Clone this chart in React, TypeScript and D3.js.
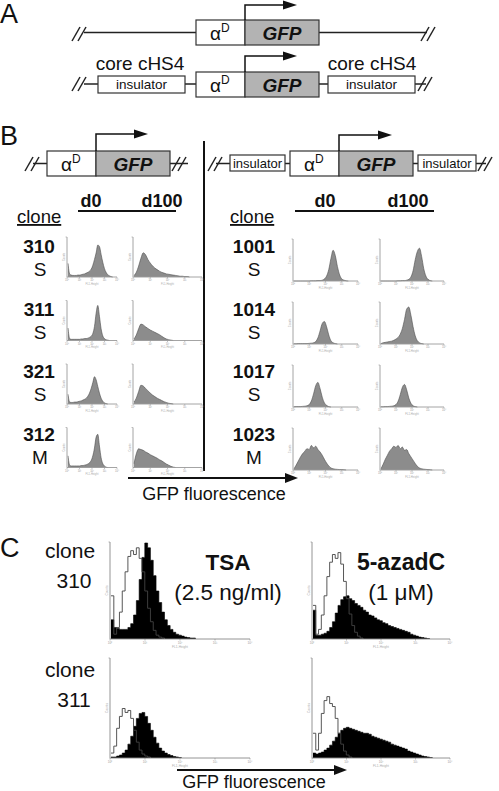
import React from "react";
import * as d3 from "d3";

const W = 499;
const H = 791;
const FONT = "'Liberation Sans', Arial, Helvetica, sans-serif";

// ---------- labels ----------
const decadeLabels = ["10⁰", "10¹", "10²", "10³", "10⁴"];
const leftClones = ["310", "311", "321", "312"];
const leftTypes = ["S", "S", "S", "M"];
const rightClones = ["1001", "1014", "1017", "1023"];
const rightTypes = ["S", "S", "S", "M"];
const dayLabels = ["d0", "d100"];
const treatNames = ["TSA", "5-azadC"];
const treatDoses = ["(2.5 ng/ml)", "(1 μM)"];
const cClones = ["310", "311"];

// ---------- panel B, no insulator (30 log bins) ----------
const b310d0 = [0.35, 0.08, 0.05, 0.04, 0.04, 0.04, 0.05, 0.05, 0.06, 0.07, 0.08, 0.1, 0.12, 0.15, 0.2, 0.3, 0.45, 0.62, 0.82, 0.78, 0.58, 0.38, 0.22, 0.12, 0.06, 0.03, 0.01, 0];
const b310d100 = [0.04, 0.12, 0.28, 0.48, 0.62, 0.57, 0.45, 0.36, 0.29, 0.23, 0.19, 0.15, 0.12, 0.1, 0.08, 0.07, 0.06, 0.05, 0.04, 0.03, 0.02, 0.02, 0.01, 0.01, 0];
const b311d0 = [0.32, 0.05, 0.03, 0.03, 0.03, 0.03, 0.03, 0.03, 0.04, 0.04, 0.05, 0.05, 0.06, 0.08, 0.11, 0.18, 0.36, 0.7, 0.9, 0.62, 0.3, 0.12, 0.05, 0.02, 0.01, 0];
const b311d100 = [0.04, 0.14, 0.3, 0.42, 0.4, 0.35, 0.31, 0.27, 0.24, 0.21, 0.18, 0.15, 0.11, 0.07, 0.04, 0.02, 0.01, 0];
const b321d0 = [0.25, 0.05, 0.04, 0.04, 0.05, 0.05, 0.06, 0.07, 0.08, 0.1, 0.12, 0.15, 0.2, 0.28, 0.4, 0.55, 0.7, 0.62, 0.45, 0.28, 0.15, 0.07, 0.03, 0.01, 0];
const b321d100 = [0.05, 0.15, 0.32, 0.48, 0.46, 0.4, 0.34, 0.28, 0.23, 0.19, 0.15, 0.12, 0.09, 0.06, 0.04, 0.02, 0.01, 0];
const b312d0 = [0.3, 0.06, 0.04, 0.04, 0.04, 0.04, 0.04, 0.04, 0.05, 0.05, 0.06, 0.07, 0.09, 0.12, 0.18, 0.3, 0.5, 0.78, 0.85, 0.55, 0.25, 0.1, 0.04, 0.01, 0];
const b312d100 = [0.1, 0.35, 0.48, 0.46, 0.44, 0.4, 0.37, 0.33, 0.3, 0.27, 0.24, 0.2, 0.17, 0.13, 0.09, 0.06, 0.03, 0.01, 0];

// ---------- panel B, with insulators ----------
const r1001d0 = [0, 0, 0, 0, 0, 0, 0, 0, 0.005, 0.005, 0.005, 0.01, 0.01, 0.02, 0.05, 0.12, 0.28, 0.55, 0.75, 0.62, 0.35, 0.15, 0.05, 0.02, 0.005, 0];
const r1001d100 = [0, 0, 0, 0, 0, 0, 0, 0, 0.005, 0.005, 0.01, 0.01, 0.02, 0.04, 0.1, 0.25, 0.52, 0.72, 0.8, 0.6, 0.3, 0.12, 0.04, 0.01, 0];
const r1014d0 = [0.005, 0.005, 0.01, 0.01, 0.01, 0.01, 0.01, 0.015, 0.02, 0.03, 0.06, 0.15, 0.32, 0.5, 0.55, 0.42, 0.22, 0.08, 0.03, 0.01, 0];
const r1014d100 = [0.01, 0.03, 0.04, 0.05, 0.06, 0.07, 0.09, 0.12, 0.16, 0.24, 0.38, 0.6, 0.85, 0.9, 0.7, 0.42, 0.2, 0.08, 0.03, 0.01, 0];
const r1017d0 = [0.005, 0.01, 0.01, 0.01, 0.015, 0.02, 0.03, 0.06, 0.15, 0.32, 0.52, 0.6, 0.45, 0.24, 0.1, 0.04, 0.01, 0];
const r1017d100 = [0.005, 0.005, 0.01, 0.01, 0.015, 0.02, 0.03, 0.06, 0.14, 0.3, 0.48, 0.55, 0.42, 0.22, 0.09, 0.03, 0.01, 0];
const r1023d0 = [0.03, 0.12, 0.22, 0.32, 0.4, 0.46, 0.52, 0.5, 0.6, 0.54, 0.58, 0.5, 0.44, 0.36, 0.26, 0.17, 0.1, 0.05, 0.03, 0.02, 0.015, 0.01, 0.01, 0.005, 0];
const r1023d100 = [0.03, 0.14, 0.26, 0.36, 0.46, 0.52, 0.58, 0.55, 0.6, 0.52, 0.56, 0.48, 0.5, 0.4, 0.32, 0.24, 0.16, 0.09, 0.05, 0.03, 0.02, 0.015, 0.01, 0.005, 0];

// ---------- panel C (50 log bins): untreated outline + treated filled ----------
const c310TsaCtrl = [0.45, 0.05, 0.12, 0.28, 0.5, 0.7, 0.86, 0.92, 0.88, 0.95, 0.84, 0.7, 0.5, 0.32, 0.18, 0.09, 0.04, 0.02, 0.01, 0];
const c310TsaTreat = [0.2, 0.12, 0.11, 0.1, 0.1, 0.1, 0.12, 0.16, 0.25, 0.4, 0.62, 0.85, 1.0, 0.95, 0.82, 0.66, 0.5, 0.38, 0.28, 0.2, 0.14, 0.1, 0.07, 0.05, 0.04, 0.03, 0.02, 0.015, 0.01, 0.01, 0];
const c310AzaCtrl = [0.35, 0.05, 0.1, 0.25, 0.45, 0.65, 0.8, 0.88, 0.84, 0.9, 0.78, 0.6, 0.42, 0.26, 0.14, 0.07, 0.03, 0.01, 0];
const c310AzaTreat = [0.3, 0.04, 0.04, 0.05, 0.06, 0.08, 0.12, 0.18, 0.27, 0.35, 0.41, 0.44, 0.45, 0.42, 0.4, 0.37, 0.35, 0.33, 0.3, 0.28, 0.25, 0.24, 0.22, 0.2, 0.19, 0.17, 0.16, 0.14, 0.13, 0.12, 0.11, 0.1, 0.09, 0.08, 0.07, 0.05, 0.04, 0.03, 0.02, 0.015, 0.01, 0.005, 0];
const c311TsaCtrl = [0.05, 0.12, 0.3, 0.42, 0.5, 0.46, 0.48, 0.4, 0.28, 0.16, 0.08, 0.04, 0.02, 0.01, 0];
const c311TsaTreat = [0.01, 0.01, 0.02, 0.03, 0.05, 0.08, 0.14, 0.22, 0.32, 0.4, 0.45, 0.46, 0.42, 0.35, 0.28, 0.21, 0.15, 0.1, 0.07, 0.05, 0.035, 0.025, 0.015, 0.01, 0.005, 0];
const c311AzaCtrl = [0.25, 0.08, 0.25, 0.45, 0.58, 0.62, 0.55, 0.52, 0.4, 0.25, 0.14, 0.07, 0.03, 0.01, 0];
const c311AzaTreat = [0.05, 0.04, 0.05, 0.06, 0.08, 0.1, 0.13, 0.17, 0.21, 0.25, 0.28, 0.3, 0.31, 0.3, 0.29, 0.28, 0.27, 0.26, 0.25, 0.25, 0.24, 0.22, 0.21, 0.2, 0.19, 0.18, 0.17, 0.16, 0.14, 0.13, 0.12, 0.11, 0.1, 0.09, 0.07, 0.06, 0.05, 0.04, 0.03, 0.02, 0.015, 0.01, 0.005, 0];

type Layer = { values: number[]; fill: string; stroke: string; sw: number };

function Histo(props: {
  x0: number; x1: number; top: number; bottom: number; bins: number;
  layers: Layer[]; step?: boolean; axisColor?: string;
}) {
  const { x0, x1, top, bottom, bins, layers, step, axisColor = "#9a9a9a" } = props;
  const xs = d3.scaleLinear().domain([0, bins - 1]).range([x0 + 1, x1 - 1]);
  const ys = d3.scaleLinear().domain([0, 1]).range([bottom, top + 1]);
  const curve = step ? d3.curveStepAfter : d3.curveMonotoneX;
  const area = d3.area<number>().x((_, i) => xs(i)).y0(bottom).y1((d) => ys(d)).curve(curve);
  const line = d3.line<number>().x((_, i) => xs(i)).y((d) => ys(d)).curve(curve);
  const dec = d3.scaleLinear().domain([0, 4]).range([x0, x1]);
  const fs = Math.min(3.2, Math.max(2.6, (bottom - top) * 0.065));
  return (
    <g>
      {layers.map((l, k) => (
        <g key={k}>
          {l.fill !== "none" && <path d={area(l.values) ?? ""} fill={l.fill} />}
          <path d={line(l.values) ?? ""} fill="none" stroke={l.stroke} strokeWidth={l.sw} />
        </g>
      ))}
      <line x1={x0} x2={x0} y1={top} y2={bottom} stroke={axisColor} strokeWidth={0.9} />
      <line x1={x0} x2={x1} y1={bottom} y2={bottom} stroke={axisColor} strokeWidth={0.9} />
      <line x1={x0 - 1.5} x2={x0} y1={top} y2={top} stroke={axisColor} strokeWidth={0.6} />
      {decadeLabels.map((t, i) => (
        <g key={t}>
          <line x1={dec(i)} x2={dec(i)} y1={bottom} y2={bottom + 1.5} stroke={axisColor} strokeWidth={0.6} />
          <text x={dec(i)} y={bottom + 1.5 + fs} fontSize={fs} textAnchor="middle" fill="#999">{t}</text>
        </g>
      ))}
      <text x={(x0 + x1) / 2} y={bottom + 2.5 + fs * 2} fontSize={fs} textAnchor="middle" fill="#aaa">FL1-Height</text>
      <text transform={`translate(${x0 - 2.5},${(top + bottom) / 2}) rotate(-90)`} fontSize={fs} textAnchor="middle" fill="#aaa">Counts</text>
    </g>
  );
}

function Slashes({ x, y }: { x: number; y: number }) {
  return (
    <g stroke="#222" strokeWidth={1.5}>
      <line x1={x} y1={y + 7} x2={x + 8} y2={y - 7} />
      <line x1={x + 6} y1={y + 7} x2={x + 14} y2={y - 7} />
    </g>
  );
}

function PromoterArrow({ x, yBox, yTop, xEnd }: { x: number; yBox: number; yTop: number; xEnd: number }) {
  return (
    <g>
      <path d={`M${x},${yBox} L${x},${yTop} L${xEnd - 13},${yTop}`} fill="none" stroke="#111" strokeWidth={1.5} />
      <path d={`M${xEnd - 14},${yTop - 4.5} L${xEnd},${yTop} L${xEnd - 14},${yTop + 4.5} Z`} fill="#111" />
    </g>
  );
}

function AlphaGfp({ x, y, h }: { x: number; y: number; h: number }) {
  return (
    <g>
      <rect x={x} y={y} width={49} height={h} fill="#fff" stroke="#333" strokeWidth={1.2} />
      <rect x={x + 49} y={y} width={74} height={h} fill="#b3b3b3" stroke="#333" strokeWidth={1.2} />
      <text x={x + 14} y={y + h / 2 + 7} fontSize={19} fill="#111">
        α<tspan dy={-8} fontSize={12}>D</tspan>
      </text>
      <text x={x + 49 + 37} y={y + h / 2 + 7} fontSize={19} fontWeight="bold" fontStyle="italic" textAnchor="middle" fill="#111">GFP</text>
    </g>
  );
}

function Insulator({ x, y, w, h, fs }: { x: number; y: number; w: number; h: number; fs: number }) {
  return (
    <g>
      <rect x={x} y={y} width={w} height={h} fill="#fff" stroke="#333" strokeWidth={1.2} />
      <text x={x + w / 2} y={y + h / 2 + fs * 0.36} fontSize={fs} textAnchor="middle" fill="#111">insulator</text>
    </g>
  );
}

function HArrow({ x1, x2, y }: { x1: number; x2: number; y: number }) {
  return (
    <g>
      <line x1={x1} x2={x2 - 12} y1={y} y2={y} stroke="#111" strokeWidth={2} />
      <path d={`M${x2 - 13},${y - 5} L${x2},${y} L${x2 - 13},${y + 5} Z`} fill="#111" />
    </g>
  );
}

const leftD0 = [b310d0, b311d0, b321d0, b312d0];
const leftD100 = [b310d100, b311d100, b321d100, b312d100];
const rightD0 = [r1001d0, r1014d0, r1017d0, r1023d0];
const rightD100 = [r1001d100, r1014d100, r1017d100, r1023d100];
const cCtrl = [[c310TsaCtrl, c310AzaCtrl], [c311TsaCtrl, c311AzaCtrl]];
const cTreat = [[c310TsaTreat, c310AzaTreat], [c311TsaTreat, c311AzaTreat]];

export default function App() {
  const gray = "#8c8c8c";
  const grayLine = "#4d4d4d";
  return (
    <svg width={W} height={H} viewBox={`0 0 ${W} ${H}`} style={{ position: "absolute", left: 0, top: 0, background: "#fff" }} fontFamily={FONT}>
      <rect width={W} height={H} fill="#fff" />

      {/* ---------------- Panel A ---------------- */}
      <text x={0} y={23} fontSize={27} fill="#111">A</text>
      <line x1={84} x2={427} y1={32.5} y2={32.5} stroke="#222" strokeWidth={1.5} />
      <Slashes x={72} y={34} />
      <Slashes x={421} y={34} />
      <AlphaGfp x={196} y={20} h={25} />
      <PromoterArrow x={245} yBox={20} yTop={5} xEnd={297} />

      <line x1={84} x2={426} y1={84} y2={84} stroke="#222" strokeWidth={1.5} />
      <Slashes x={72} y={84} />
      <Slashes x={418} y={84} />
      <Insulator x={98} y={76} w={87} h={17} fs={13.5} />
      <Insulator x={328} y={76} w={87} h={17} fs={13.5} />
      <AlphaGfp x={196} y={72} h={25} />
      <PromoterArrow x={245} yBox={72} yTop={56} xEnd={297} />
      <text x={140} y={70} fontSize={19} textAnchor="middle" fill="#111">core cHS4</text>
      <text x={372} y={70} fontSize={19} textAnchor="middle" fill="#111">core cHS4</text>

      {/* ---------------- Panel B ---------------- */}
      <text x={0} y={145} fontSize={27} fill="#111">B</text>
      <line x1={33} x2={188} y1={163.5} y2={163.5} stroke="#222" strokeWidth={1.5} />
      <Slashes x={25} y={164} />
      <Slashes x={172} y={164} />
      <AlphaGfp x={47} y={151} h={25} />
      <PromoterArrow x={96} yBox={151} yTop={134} xEnd={148} />
      <line x1={216} x2={486} y1={163.5} y2={163.5} stroke="#222" strokeWidth={1.5} />
      <Slashes x={208} y={164} />
      <Slashes x={478} y={164} />
      <Insulator x={230} y={155} w={55} h={16} fs={13} />
      <Insulator x={418} y={155} w={58} h={16} fs={13} />
      <AlphaGfp x={290} y={151} h={25} />
      <PromoterArrow x={339} yBox={151} yTop={135} xEnd={392} />

      <line x1={204} x2={204} y1={141} y2={471} stroke="#111" strokeWidth={2} />

      <text x={91} y={207} fontSize={18} fontWeight="bold" textAnchor="middle" fill="#111">{dayLabels[0]}</text>
      <text x={162} y={207} fontSize={18} fontWeight="bold" textAnchor="middle" fill="#111">{dayLabels[1]}</text>
      <line x1={78} x2={176} y1={211} y2={211} stroke="#111" strokeWidth={1.8} />
      <text x={325} y={207} fontSize={18} fontWeight="bold" textAnchor="middle" fill="#111">{dayLabels[0]}</text>
      <text x={408} y={207} fontSize={18} fontWeight="bold" textAnchor="middle" fill="#111">{dayLabels[1]}</text>
      <line x1={295} x2={434} y1={211} y2={211} stroke="#111" strokeWidth={1.8} />
      <text x={17} y={223} fontSize={18.5} textDecoration="underline" fill="#111">clone</text>
      <text x={230} y={223} fontSize={18.5} textDecoration="underline" fill="#111">clone</text>

      {leftClones.map((c, i) => {
        const bottom = 277 + 63.5 * i;
        const base = 253 + 62.5 * i;
        return (
          <g key={c}>
            <text x={39} y={base} fontSize={19} fontWeight="bold" textAnchor="middle" fill="#111">{c}</text>
            <text x={40} y={base + 23} fontSize={19} textAnchor="middle" fill="#111">{leftTypes[i]}</text>
            <Histo x0={67} x1={117} top={bottom - 40} bottom={bottom} bins={30}
              layers={[{ values: leftD0[i], fill: gray, stroke: grayLine, sw: 0.6 }]} />
            <Histo x0={133} x1={202} top={bottom - 40} bottom={bottom} bins={30}
              layers={[{ values: leftD100[i], fill: gray, stroke: grayLine, sw: 0.6 }]} />
          </g>
        );
      })}

      {rightClones.map((c, i) => {
        const bottom = 281 + 63 * i;
        const base = 253 + 62.5 * i;
        return (
          <g key={c}>
            <text x={254} y={base} fontSize={19} fontWeight="bold" textAnchor="middle" fill="#111">{c}</text>
            <text x={254} y={base + 23} fontSize={19} textAnchor="middle" fill="#111">{rightTypes[i]}</text>
            <Histo x0={293} x1={358} top={bottom - 42} bottom={bottom} bins={30}
              layers={[{ values: rightD0[i], fill: gray, stroke: grayLine, sw: 0.6 }]} />
            <Histo x0={380} x1={444} top={bottom - 42} bottom={bottom} bins={30}
              layers={[{ values: rightD100[i], fill: gray, stroke: grayLine, sw: 0.6 }]} />
          </g>
        );
      })}

      <HArrow x1={128} x2={298} y={478} />
      <text x={214} y={500} fontSize={18} textAnchor="middle" fill="#111">GFP fluorescence</text>

      {/* ---------------- Panel C ---------------- */}
      <text x={0} y={557} fontSize={27} fill="#111">C</text>
      {cClones.map((c, r) => {
        const base = r === 0 ? 558 : 677;
        return (
          <g key={c}>
            <text x={70} y={base} fontSize={21} textAnchor="middle" fill="#111">clone</text>
            <text x={74} y={base + 30} fontSize={21} textAnchor="middle" fill="#111">{c}</text>
          </g>
        );
      })}
      {[0, 1].map((r) =>
        [0, 1].map((col) => {
          const top = r === 0 ? 542 : 658;
          const bottom = r === 0 ? 639 : 758;
          const x0 = col === 0 ? 110 : 312;
          const x1 = col === 0 ? 250 : 450;
          return (
            <Histo key={`${r}-${col}`} x0={x0} x1={x1} top={top} bottom={bottom} bins={50} step axisColor="#888"
              layers={[
                { values: cTreat[r][col], fill: "#000", stroke: "#000", sw: 0.6 },
                { values: cCtrl[r][col], fill: "none", stroke: "#444", sw: 0.9 },
              ]} />
          );
        })
      )}
      <text x={228} y={570} fontSize={22.5} fontWeight="bold" textAnchor="middle" fill="#111">{treatNames[0]}</text>
      <text x={401} y={570} fontSize={23} fontWeight="bold" textAnchor="middle" fill="#111">{treatNames[1]}</text>
      <text x={228} y={600} fontSize={22.5} textAnchor="middle" fill="#111">{treatDoses[0]}</text>
      <text x={401} y={600} fontSize={22.5} textAnchor="middle" fill="#111">{treatDoses[1]}</text>

      <HArrow x1={177} x2={347} y={770} />
      <text x={254} y={788} fontSize={18} textAnchor="middle" fill="#111">GFP fluorescence</text>
    </svg>
  );
}
